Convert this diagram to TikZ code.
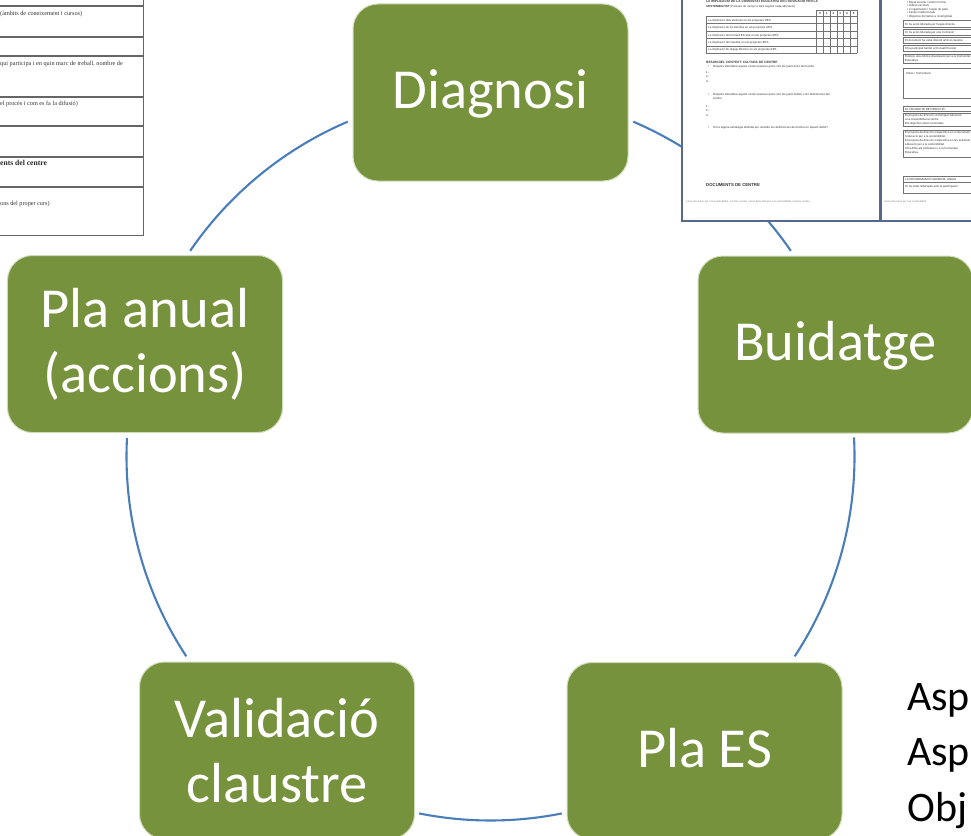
\documentclass[tikz,border=0pt]{standalone}
\usepackage{fontspec}
\setmainfont{Carlito}
\newfontfamily\docserif{Liberation Serif}
\newfontfamily\docsans{Liberation Sans}
\usetikzlibrary{calc}
\definecolor{boxgreen}{HTML}{76923C}
\definecolor{arcblue}{HTML}{4A7EBB}
\definecolor{boxedge}{RGB}{205,220,185}
\definecolor{pageedge}{HTML}{56698A}
\definecolor{doctext}{HTML}{333333}
\begin{document}
\begin{tikzpicture}[x=1bp,y=1bp,
  stage/.style={draw=boxedge, line width=1bp, fill=boxgreen, rounded corners=25bp,
    minimum width=275bp, minimum height=177bp, inner sep=0pt, text=white, align=center,
    font=\fontsize{56.5bp}{64.7bp}\selectfont},
  oneline/.style={text height=38bp, text depth=6bp},
  cyclearc/.style={draw=arcblue, line width=2.1bp},
  ltxt/.style={anchor=base west, inner sep=0pt, text=doctext, font=\docserif\fontsize{6.2bp}{7bp}\selectfont},
  rtxt/.style={anchor=base west, inner sep=0pt, text=doctext, font=\docsans\fontsize{2.9bp}{3.4bp}\selectfont},
  rbold/.style={rtxt, font=\docsans\bfseries\fontsize{3.2bp}{3.6bp}\selectfont},
  foot/.style={anchor=base west, inner sep=0pt, text=gray, font=\docsans\fontsize{2.6bp}{3bp}\selectfont},
  lline/.style={draw=black!60, line width=1.1bp},
  rline/.style={draw=black!55, line width=0.5bp},
  sidetext/.style={anchor=base west, inner sep=0pt, font=\fontsize{42bp}{50bp}\selectfont}
]
\useasboundingbox (0,0) rectangle (971,-836);
\clip (0,0) rectangle (971,-836);

% ---- cycle arcs
\coordinate (c) at (490.5,-456.5);
\coordinate (a1) at ([shift={(66.9:364)}]c);
\coordinate (a2) at ([shift={(3.0:364)}]c);
\coordinate (a3) at ([shift={(-78.7:364)}]c);
\coordinate (a4) at ([shift={(-146.7:364)}]c);
\coordinate (a5) at ([shift={(145.6:364)}]c);
\draw[cyclearc] (a1) arc[start angle=66.9, end angle=34.4, radius=364];
\draw[cyclearc] (a2) arc[start angle=3.0, end angle=-33.3, radius=364];
\draw[cyclearc] (a3) arc[start angle=-78.7, end angle=-101.3, radius=364];
\draw[cyclearc] (a4) arc[start angle=-146.7, end angle=-182.9, radius=364];
\draw[cyclearc] (a5) arc[start angle=145.6, end angle=113.1, radius=364];

% ---- document top-left
\begin{scope}
\clip (0,0) rectangle (145,-237);
\fill[white] (0,0) rectangle (144,-236);
\foreach \yy in {6,37,56,97,126,157,187} \draw[lline] (0,-\yy) -- (144,-\yy);
\draw[lline] (143.5,0) -- (143.5,-235.5) -- (0,-235.5);
\node[ltxt] (l1) at (0,-15.5) {(àmbits de coneixement i cursos)};
\node[ltxt] (l2) at (0,-65.5) {qui participa i en quin marc de treball, nombre de};
\node[ltxt] (l3) at (0,-105.5) {el procés i com es fa la difusió)};
\node[ltxt, font=\docserif\bfseries\fontsize{7.6bp}{8bp}\selectfont, text=black!85] (l4) at (0,-165) {ents del centre};
\node[ltxt] (l5) at (0,-205.5) {ons del proper curs)};
\end{scope}

% ---- document top-right (two pages)
\fill[pageedge] (681,0) rectangle (971,-222);
\fill[white] (682.8,0) rectangle (878.5,-220.4);
\fill[white] (881.8,0) rectangle (971,-220.4);
\begin{scope}
\clip (682.8,0) rectangle (878.5,-220.4);
\node[rbold] (t1) at (706,-2.5) {LA IMPLICACIÓ DE LA COMUNITAT EDUCATIVA EN L'EDUCACIÓ PER LA};
\node[rtxt] (t2) at (706,-7.2) {\textbf{SOSTENIBILITAT} (Puntueu de menys a més segons cada afirmació)};
\foreach \yy in {16,23.5,31,38.4,45.9,53.3} \draw[rline] (706,-\yy) -- (856.9,-\yy);
\draw[rline] (816.7,-10) -- (856.9,-10);
\draw[rline] (706,-16) -- (706,-53.3);
\foreach \xx/\dd in {816.7/0,823.4/1,830.1/2,836.8/3,843.5/4,850.2/5}{
  \draw[rline] (\xx,-10) -- (\xx,-53.3);
  \node[rtxt, anchor=base, font=\docsans\bfseries\fontsize{2.9bp}{3.4bp}\selectfont] (h\dd) at (\xx+3.35,-14.2) {\dd};
}
\draw[rline] (856.9,-10) -- (856.9,-53.3);
\node[rtxt] (r1) at (708,-21) {La implicació dels alumnes en els projectes d'ES};
\node[rtxt] (r2) at (708,-28.5) {La implicació de les famílies en els projectes d'ES};
\node[rtxt] (r3) at (708,-36) {La implicació del Consell Escolar en els projectes d'ES};
\node[rtxt] (r4) at (708,-43.4) {La implicació del claustre en els projectes d'ES};
\node[rtxt] (r5) at (708,-50.8) {La implicació de l'equip Directiu en els projectes d'ES};
\node[rbold] (s1) at (706,-63) {RESUM DEL CONTEXT: CULTURA DE CENTRE};
\node[rtxt] (b1) at (708,-67.5) {•};
\node[rtxt] (s2) at (713,-67.5) {Després d'analitzar aquest context penseu quins són els punts forts del Centre};
\node[rtxt] (n1) at (706,-73) {1.-};
\node[rtxt] (n2) at (706,-77.5) {2.-};
\node[rtxt] (n3) at (706,-82) {3.-};
\node[rtxt] (b2) at (708,-95) {•};
\node[rtxt] (s3) at (713,-95) {Després d'analitzar aquest context penseu quins són els punts febles o les deficiències del};
\node[rtxt] (s4) at (713,-99) {Centre};
\node[rtxt] (n4) at (706,-107) {1.-};
\node[rtxt] (n5) at (706,-111.5) {2.-};
\node[rtxt] (n6) at (706,-116) {3.-};
\node[rtxt] (b3) at (708,-128) {•};
\node[rtxt] (s5) at (713,-128) {Hi ha alguna estratègia definida per resoldre les deficiències del Centre en aquest àmbit?};
\node[rbold, font=\docsans\bfseries\fontsize{4.3bp}{5bp}\selectfont] (s6) at (706,-186.5) {DOCUMENTS DE CENTRE};
\node[foot] (f1) at (686,-202.5) {xarxa d'escoles per a la sostenibilitat, escoles verdes, xarxa d'escoles per a la sostenibilitat, escoles verdes.};
\end{scope}
\begin{scope}
\clip (881.8,0) rectangle (971,-220.4);
\node[rtxt] (p1) at (907,-3) {•\ Espai escolar i entorn formal};
\node[rtxt] (p2) at (907,-6.5) {•\ Llibres escolars};
\node[rtxt] (p3) at (907,-10) {•\ L'organització i l'espai de patis};
\node[rtxt] (p4) at (907,-13.5) {•\ Festes institucionals};
\node[rtxt] (p5) at (907,-17) {•\ Objectius formatius a nivell global};
\foreach \ya/\yb in {20.5/27,29.5/35,37.5/43,45.5/51,54/63.5,68.5/98.5,106/111.5,113/126,130/157.5,176/182,182/193}
  \draw[rline] (903.5,-\ya) rectangle (980,-\yb);
\node[rtxt] (q1) at (905,-25) {Hi ha acció liderada per l'equip directiu};
\node[rtxt] (q2) at (905,-33.5) {Hi ha acció liderada per una Comissió};
\node[rtxt] (q3) at (905,-41.5) {El document ha estat discutit amb el claustre};
\node[rtxt] (q4) at (905,-49.5) {S'ha participat també al Consell Escolar};
\node[rtxt] (q5) at (905,-57.5) {Existeix una rúbrica d'avaluació per a la Comunitat};
\node[rtxt] (q6) at (905,-61.5) {Educativa.};
\node[rtxt] (q7) at (906,-74) {Altres / Comentaris};
\node[rtxt] (q8) at (905,-110) {EL PROJECTE DE DIRECCIÓ};
\node[rtxt] (q9) at (905,-116.5) {El projecte de direcció contempla l'educació};
\node[rtxt] (q10) at (905,-120) {a la sostenibilitat al centre};
\node[rtxt] (q11) at (905,-124.5) {Els objectius estan concretats};
\node[rtxt] (q12) at (905,-133.5) {El projecte de direcció s'especifica en el document};
\node[rtxt] (q13) at (905,-137) {l'educació per a la sostenibilitat};
\node[rtxt] (q14) at (905,-141.5) {El projecte de direcció s'especifica en les activitats};
\node[rtxt] (q15) at (905,-145) {educació per a la sostenibilitat};
\node[rtxt] (q16) at (905,-149.5) {S'ha difós als professors i a la Comunitat};
\node[rtxt] (q17) at (905,-153) {Educativa.};
\node[rtxt] (q18) at (905,-180.5) {LA PROGRAMACIÓ GENERAL ANUAL};
\node[rtxt] (q19) at (905,-187) {Hi ha estat redactada amb la participació};
\node[foot] (f2) at (884,-202.5) {xarxa d'escoles per a la sostenibilitat};
\end{scope}

% ---- stages
\node[stage, oneline] (diag) at (490.5,-92.5) {Diagnosi};
\node[stage, oneline] (buid) at (835.5,-344.5) {Buidatge};
\node[stage, oneline] (plaes) at (704.5,-751) {Pla ES};
\node[stage] (valid) at (277,-750.5) {Validació\\claustre};
\node[stage] (anual) at (145,-344) {Pla anual\\(accions)};

% ---- side text
\node[sidetext] (asp1) at (907,-710) {Asp};
\node[sidetext] (asp2) at (907,-765.5) {Asp};
\node[sidetext] (obj) at (907,-821) {Obj};
\end{tikzpicture}
\end{document}
